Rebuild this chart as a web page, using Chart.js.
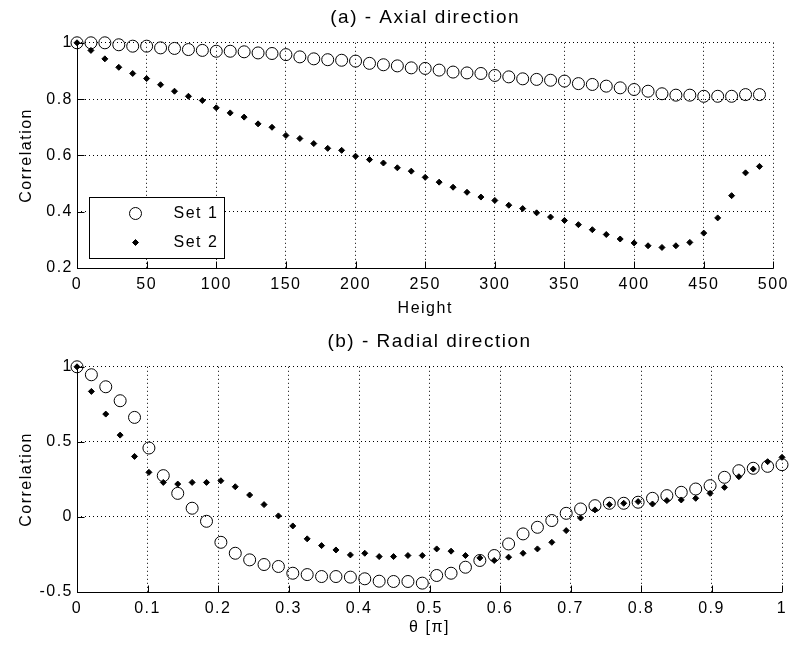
<!DOCTYPE html>
<html>
<head>
<meta charset="utf-8">
<script src="https://cdn.jsdelivr.net/npm/chart.js@4/dist/chart.umd.min.js"></script>
<style>
html, body { margin: 0; padding: 0; background: #fff; }
canvas { display: block; }
</style>
</head>
<body>
<canvas id="axial" width="796" height="324"></canvas>
<canvas id="radial" width="796" height="324"></canvas>
<script>
// (a) axial direction
const heights = [0, 10, 20, 30, 40, 50, 60, 70, 80, 90, 100, 110, 120, 130, 140, 150, 160, 170, 180, 190,
  200, 210, 220, 230, 240, 250, 260, 270, 280, 290, 300, 310, 320, 330, 340, 350, 360, 370, 380, 390,
  400, 410, 420, 430, 440, 450, 460, 470, 480, 490]
const axialSet1 = [1.0, 1.0, 1.0, 0.993, 0.988, 0.988, 0.982, 0.98, 0.976, 0.973,
  0.97, 0.97, 0.968, 0.964, 0.962, 0.958, 0.95, 0.943, 0.94, 0.938,
  0.935, 0.927, 0.922, 0.918, 0.911, 0.909, 0.903, 0.896, 0.893, 0.891,
  0.884, 0.879, 0.872, 0.87, 0.867, 0.864, 0.855, 0.852, 0.846, 0.84,
  0.834, 0.828, 0.819, 0.814, 0.814, 0.81, 0.81, 0.81, 0.816, 0.816]
const axialSet2 = [1.0, 0.973, 0.943, 0.913, 0.891, 0.873, 0.851, 0.828, 0.81, 0.795,
  0.769, 0.751, 0.736, 0.712, 0.7, 0.671, 0.66, 0.642, 0.625, 0.618,
  0.597, 0.585, 0.573, 0.556, 0.544, 0.522, 0.505, 0.487, 0.469, 0.452,
  0.44, 0.423, 0.411, 0.396, 0.381, 0.369, 0.354, 0.336, 0.319, 0.303,
  0.289, 0.279, 0.273, 0.279, 0.291, 0.324, 0.378, 0.457, 0.538, 0.561]
const axialXTicks = [0, 50, 100, 150, 200, 250, 300, 350, 400, 450, 500]
const axialYTicks = [0.2, 0.4, 0.6, 0.8, 1]

// (b) radial direction
const theta = [0, 0.0204, 0.0408, 0.0612, 0.0816, 0.1020, 0.1224, 0.1429, 0.1633, 0.1837,
  0.2041, 0.2245, 0.2449, 0.2653, 0.2857, 0.3061, 0.3265, 0.3469, 0.3673, 0.3878,
  0.4082, 0.4286, 0.4490, 0.4694, 0.4898, 0.5102, 0.5306, 0.5510, 0.5714, 0.5918,
  0.6122, 0.6327, 0.6531, 0.6735, 0.6939, 0.7143, 0.7347, 0.7551, 0.7755, 0.7959,
  0.8163, 0.8367, 0.8571, 0.8776, 0.8980, 0.9184, 0.9388, 0.9592, 0.9796, 1]
const radialSet1 = [1.0, 0.947, 0.867, 0.774, 0.663, 0.459, 0.275, 0.157, 0.058, -0.029,
  -0.169, -0.242, -0.286, -0.317, -0.33, -0.375, -0.384, -0.397, -0.397, -0.401,
  -0.412, -0.428, -0.43, -0.43, -0.441, -0.39, -0.375, -0.335, -0.29, -0.257,
  -0.18, -0.113, -0.069, -0.024, 0.024, 0.053, 0.075, 0.091, 0.091, 0.098,
  0.124, 0.142, 0.164, 0.186, 0.208, 0.264, 0.308, 0.324, 0.337, 0.348]
const radialSet2 = [1.0, 0.836, 0.685, 0.545, 0.403, 0.297, 0.23, 0.219, 0.23, 0.23,
  0.241, 0.201, 0.146, 0.082, 0.007, -0.06, -0.146, -0.191, -0.22, -0.253,
  -0.242, -0.264, -0.264, -0.257, -0.257, -0.213, -0.228, -0.257, -0.273, -0.29,
  -0.268, -0.242, -0.213, -0.169, -0.091, -0.007, 0.047, 0.082, 0.091, 0.102,
  0.086, 0.109, 0.113, 0.124, 0.157, 0.197, 0.268, 0.319, 0.368, 0.397]
const radialXTicks = [0, 0.1, 0.2, 0.3, 0.4, 0.5, 0.6, 0.7, 0.8, 0.9, 1]
const radialYTicks = [-0.5, 0, 0.5, 1]

const seriesNames = ['Set 1', 'Set 2']

Chart.defaults.font.family = '"Liberation Sans", Arial, sans-serif'
Chart.defaults.font.size = 16
Chart.defaults.color = '#000'

// matlab text is drawn a bit wide
const textSpacing = {
    id: 'textSpacing',
    beforeUpdate(chart) { chart.ctx.letterSpacing = '1.5px' },
    beforeDraw(chart) { chart.ctx.letterSpacing = '1.5px' }
}

// solid left/bottom axis lines with inward ticks
const matlabAxes = {
    id: 'matlabAxes',
    beforeDatasetsDraw(chart) {
        const { ctx, chartArea: a, scales: { x, y } } = chart
        const l = Math.round(a.left) + 0.5
        const b = Math.round(a.bottom) + 0.5
        ctx.save()
        ctx.strokeStyle = '#000'
        ctx.lineWidth = 1
        ctx.setLineDash([])
        ctx.beginPath()
        ctx.moveTo(l, a.top)
        ctx.lineTo(l, b)
        ctx.lineTo(a.right, b)
        x.ticks.forEach(t => {
            const px = Math.round(x.getPixelForValue(t.value)) + 0.5
            ctx.moveTo(px, b)
            ctx.lineTo(px, b - 7)
        })
        y.ticks.forEach(t => {
            const py = Math.round(y.getPixelForValue(t.value)) + 0.5
            ctx.moveTo(l, py)
            ctx.lineTo(l + 7, py)
        })
        ctx.stroke()
        ctx.restore()
    }
}

function drawMarker(ctx, ds, x, y) {
    ctx.beginPath()
    if (ds.pointStyle === 'circle') {
        ctx.arc(x, y, ds.pointRadius, 0, Math.PI * 2)
        ctx.stroke()
    } else {
        const r = ds.pointRadius
        ctx.moveTo(x - r, y)
        ctx.lineTo(x, y - r)
        ctx.lineTo(x + r, y)
        ctx.lineTo(x, y + r)
        ctx.closePath()
        ctx.fill()
        ctx.stroke()
    }
}

// boxed legend in the lower left corner of the axes
const boxLegend = {
    id: 'boxLegend',
    afterDatasetsDraw(chart) {
        const { ctx, chartArea: a } = chart
        const x0 = Math.round(a.left) + 12.5
        const y0 = Math.round(a.bottom) - 70.5
        ctx.save()
        ctx.setLineDash([])
        ctx.fillStyle = '#fff'
        ctx.strokeStyle = '#000'
        ctx.lineWidth = 1
        ctx.fillRect(x0, y0, 135, 61)
        ctx.strokeRect(x0, y0, 135, 61)
        ctx.font = '16px "Liberation Sans", Arial, sans-serif'
        ctx.textBaseline = 'middle'
        chart.data.datasets.forEach((ds, i) => {
            const cy = y0 + 16 + i * 29
            ctx.fillStyle = '#000'
            drawMarker(ctx, ds, x0 + 46, cy)
            ctx.fillText(ds.label, x0 + 84, cy)
        })
        ctx.restore()
    }
}

const fmt = v => String(Math.round(v * 100) / 100)

function makeChart(id, opts) {
    const plugins = [textSpacing, matlabAxes]
    if (opts.legend) plugins.push(boxLegend)
    return new Chart(document.getElementById(id), {
        type: 'scatter',
        data: {
            datasets: [{
                label: seriesNames[0],
                data: opts.xs.map((x, i) => ({ x: x, y: opts.set1[i] })),
                pointStyle: 'circle',
                pointRadius: 6,
                pointBorderWidth: 1,
                pointBorderColor: '#000',
                pointBackgroundColor: 'rgba(0,0,0,0)',
                clip: false
            }, {
                label: seriesNames[1],
                data: opts.xs.map((x, i) => ({ x: x, y: opts.set2[i] })),
                pointStyle: 'rectRot',
                pointRadius: 3,
                pointBorderWidth: 1,
                pointBorderColor: '#000',
                pointBackgroundColor: '#000',
                clip: false
            }]
        },
        options: {
            responsive: false,
            animation: false,
            events: [],
            layout: { padding: { left: 0, right: 14, top: 0, bottom: 0 } },
            plugins: {
                legend: { display: false },
                tooltip: { enabled: false },
                title: {
                    display: true,
                    fullSize: false,
                    text: opts.title,
                    font: { size: 19, weight: 'normal' },
                    padding: { top: 6, bottom: 14 }
                }
            },
            scales: {
                x: {
                    type: 'linear',
                    min: opts.xTicks[0],
                    max: opts.xTicks[opts.xTicks.length - 1],
                    afterBuildTicks: s => { s.ticks = opts.xTicks.map(v => ({ value: v })) },
                    afterFit: s => { s.height = 56 },
                    ticks: { callback: fmt, padding: 7, maxRotation: 0, autoSkip: false },
                    grid: { color: '#000', lineWidth: 1, drawTicks: false },
                    border: { display: false, dash: [1, 3] },
                    title: {
                        display: true,
                        text: opts.xLabel,
                        font: { size: 16 },
                        padding: { top: 0, bottom: opts.xTitlePad }
                    }
                },
                y: {
                    type: 'linear',
                    min: opts.yTicks[0],
                    max: opts.yTicks[opts.yTicks.length - 1],
                    afterBuildTicks: s => { s.ticks = opts.yTicks.map(v => ({ value: v })) },
                    afterFit: s => { s.width = 77 },
                    ticks: { callback: fmt, padding: 4, autoSkip: false },
                    grid: { color: '#000', lineWidth: 1, drawTicks: false },
                    border: { display: false, dash: [1, 3] },
                    title: {
                        display: true,
                        text: 'Correlation',
                        font: { size: 16 },
                        padding: { top: 17, bottom: 0 }
                    }
                }
            }
        },
        plugins: plugins
    })
}

makeChart('axial', {
    title: '(a) - Axial direction',
    xLabel: 'Height',
    xs: heights, set1: axialSet1, set2: axialSet2,
    xTicks: axialXTicks, yTicks: axialYTicks,
    xTitlePad: 6, legend: true
})

makeChart('radial', {
    title: '(b) - Radial direction',
    xLabel: 'θ [π]',
    xs: theta, set1: radialSet1, set2: radialSet2,
    xTicks: radialXTicks, yTicks: radialYTicks,
    xTitlePad: 11, legend: false
})
</script>
</body>
</html>
